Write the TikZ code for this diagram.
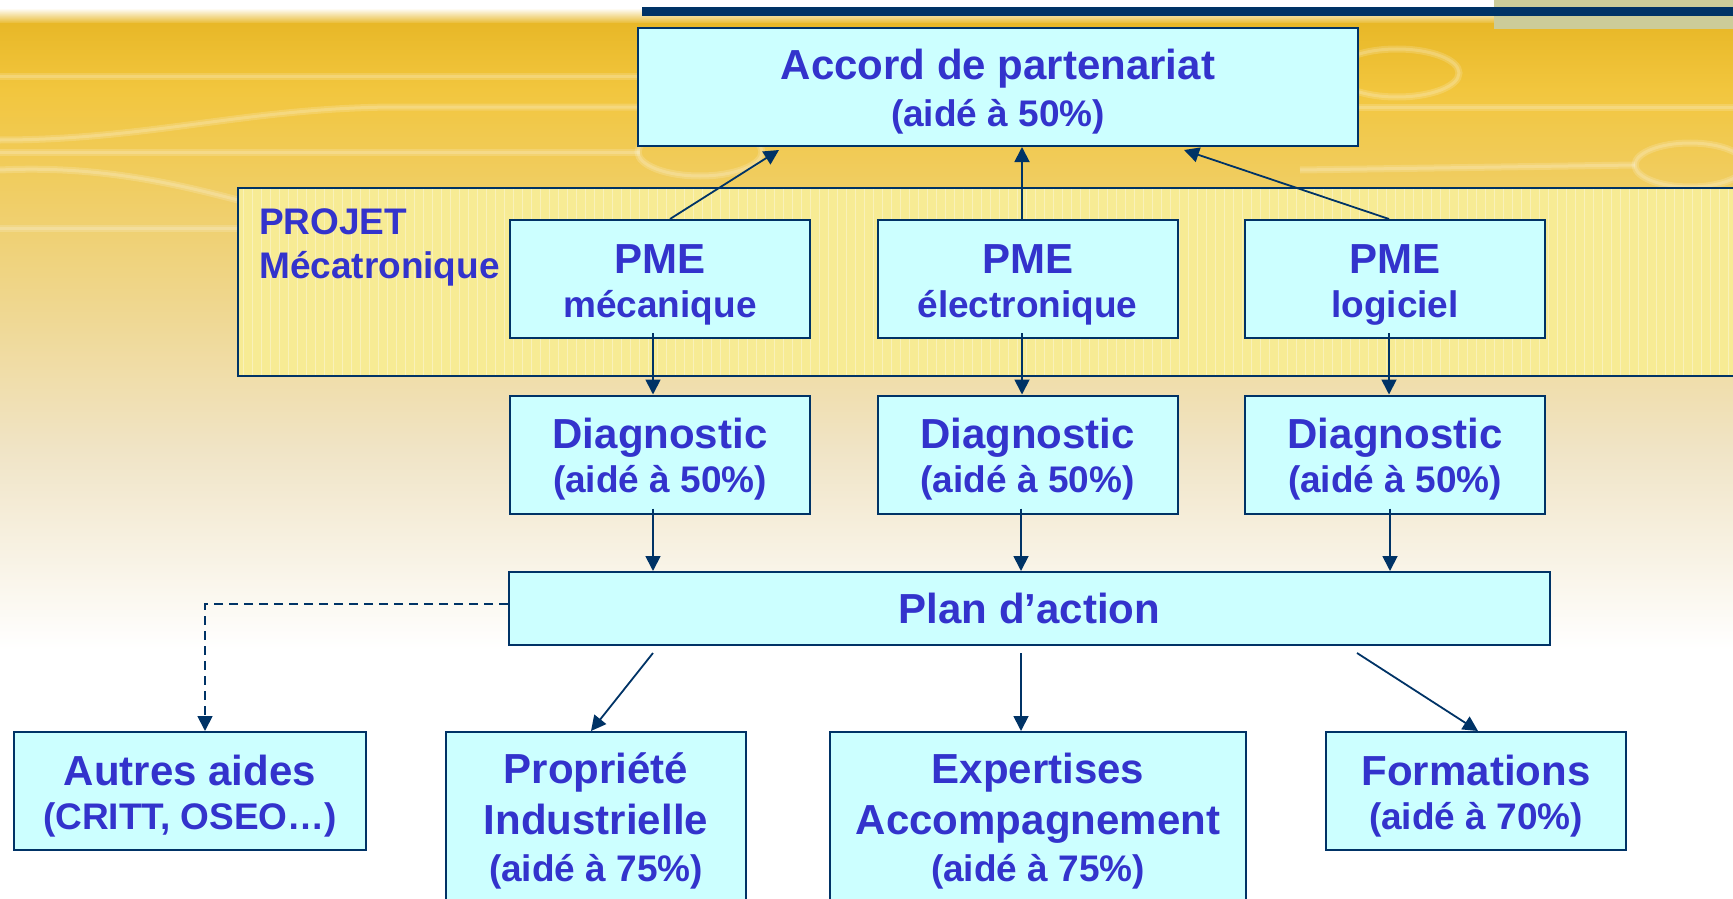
\documentclass[tikz,border=0pt]{standalone}
\usepackage{fontspec}
\setmainfont{Liberation Sans}
\usetikzlibrary{arrows.meta}
\definecolor{marine}{HTML}{003366}
\definecolor{bleutexte}{HTML}{3333CC}
\definecolor{cyanclair}{HTML}{CCFFFF}
\definecolor{jauneprojet}{HTML}{F7EB94}
\definecolor{kaki}{HTML}{CCCC99}
\definecolor{orfonce}{HTML}{E8B828}
\definecolor{ormoyen}{HTML}{F2C63E}
\definecolor{orpale}{HTML}{EFD27A}
\definecolor{creme}{HTML}{F0E4C6}
\tikzset{
  boite/.style={draw=marine, line width=2pt, fill=cyanclair, text=bleutexte, align=center,
    inner sep=0pt, font=\bfseries\fontsize{37}{44}\selectfont},
  fleche/.style={draw=marine, line width=1.8pt, -{Triangle[length=15pt,width=15pt]}},
  filet/.style={white, opacity=.16, line width=7pt},
  filetfin/.style={white, opacity=.18, line width=3pt},
}
\newcommand{\grand}[1]{{\fontsize{42}{44}\selectfont #1}}
\newcommand{\cale}{\rule{0pt}{40pt}}
\begin{document}
\begin{tikzpicture}[x=1pt, y=-1pt]
      \useasboundingbox (0,0) rectangle (1733,899);
      \clip (0,0) rectangle (1733,899);
      % Draw the background
      \fill[white] (0,0) rectangle (1733,899);
      \shade[top color=white, bottom color=orfonce] (0,8) rectangle (1733,24);
      \shade[top color=orfonce, bottom color=ormoyen] (0,24) rectangle (1733,90);
      \shade[top color=ormoyen, bottom color=orpale] (0,90) rectangle (1733,250);
      \shade[top color=orpale, bottom color=creme] (0,250) rectangle (1733,450);
      \shade[top color=creme, bottom color=white] (0,450) rectangle (1733,650);
      \foreach \trait in {filet, filetfin} {
        \draw[\trait] (0,77) -- (640,77);
        \draw[\trait] (0,140) .. controls (150,140) and (250,107) .. (400,107) -- (640,107);
        \draw[\trait] (0,152) -- (640,152);
        \draw[\trait] (0,170) .. controls (100,165) and (180,185) .. (238,200);
        \draw[\trait] (0,228) -- (238,228);
        \draw[\trait] (700,152) ellipse[x radius=62pt, y radius=24pt];
        \draw[\trait] (1397,73) ellipse[x radius=62pt, y radius=24pt];
        \draw[\trait] (1358,107) -- (1733,107);
        \draw[\trait] (1300,170) -- (1635,165);
        \draw[\trait] (1690,165) ellipse[x radius=55pt, y radius=22pt];
      }
      \fill[kaki] (1494,0) rectangle (1733,29);
      \fill[marine] (642,7) rectangle (1733,16);
      % Draw the project zone
      \fill[jauneprojet] (238,188) rectangle (1745,376);
      \draw[white, opacity=.35, line width=.8pt, step=9] (238,188) grid (1745,376);
      \draw[marine, line width=2pt] (238,188) rectangle (1745,376);
      \node[text=bleutexte, font=\bfseries\fontsize{37}{44}\selectfont, align=left, anchor=north west, inner sep=0pt] (projet) at (259,208) {PROJET\\Mécatronique};
      % Draw the boxes
      \node[boite, minimum width=720, minimum height=118] (accord) at (998,87) {\cale\grand{Accord de partenariat}\\[3pt](aidé à 50\%)};
      \node[boite, minimum width=300, minimum height=118] (mec) at (660,279) {\cale\grand{PME}\\mécanique};
      \node[boite, minimum width=300, minimum height=118] (elec) at (1027.5,279) {\cale\grand{PME}\\électronique};
      \node[boite, minimum width=300, minimum height=118] (log) at (1395,279) {\cale\grand{PME}\\logiciel};
      \node[boite, minimum width=300, minimum height=118] (diagA) at (660,454.5) {\cale\grand{Diagnostic}\\(aidé à 50\%)};
      \node[boite, minimum width=300, minimum height=118] (diagB) at (1027.5,454.5) {\cale\grand{Diagnostic}\\(aidé à 50\%)};
      \node[boite, minimum width=300, minimum height=118] (diagC) at (1395,454.5) {\cale\grand{Diagnostic}\\(aidé à 50\%)};
      \node[boite, minimum width=1041, minimum height=73] (plan) at (1029.5,608.5) {\grand{Plan d’action}};
      \node[boite, minimum width=352, minimum height=118] (autres) at (190,791) {\cale\grand{Autres aides}\\(CRITT, OSEO…)};
      \node[boite, minimum width=300, minimum height=178] (prop) at (596,821) {\grand{Propriété}\\[7pt]\grand{Industrielle}\\[3pt](aidé à 75\%)};
      \node[boite, minimum width=416, minimum height=178] (exp) at (1038,821) {\grand{Expertises}\\[7pt]\grand{Accompagnement}\\[3pt](aidé à 75\%)};
      \node[boite, minimum width=300, minimum height=118] (form) at (1476,791) {\cale\grand{Formations}\\(aidé à 70\%)};
      % Draw the arrows
      \draw[fleche] ([xshift=10pt]mec.north) -- ([xshift=-219pt,yshift=-3pt]accord.south);
      \draw[fleche] ([xshift=-5.5pt]elec.north) -- ([xshift=24pt]accord.south);
      \draw[fleche] ([xshift=-6pt]log.north) -- ([xshift=186pt,yshift=-3pt]accord.south);
      \foreach \haut/\bas/\dx in {mec/diagA/-7, elec/diagB/-5.5, log/diagC/-6}
        \draw[fleche] ([xshift=\dx pt, yshift=6pt]\haut.south) -- ([xshift=\dx pt]\bas.north);
      \foreach \diag/\dx in {diagA/-7, diagB/-6.5, diagC/-5}
        \draw[fleche] ([xshift=\dx pt, yshift=6pt]\diag.south) -- ([xshift=\dx pt]\diag.south |- plan.north);
      \draw[fleche] ([xshift=-376.5pt, yshift=-7pt]plan.south) -- ([xshift=-5pt]prop.north);
      \draw[fleche] ([xshift=-8.5pt, yshift=-7pt]plan.south) -- ([xshift=-17pt]exp.north);
      \draw[fleche] ([xshift=327.5pt, yshift=-7pt]plan.south) -- ([xshift=2pt]form.north);
      \draw[fleche, dash pattern=on 9pt off 6pt] ([yshift=4.5pt]plan.west) -| ([xshift=15pt]autres.north);
   \end{tikzpicture}
\end{document}
